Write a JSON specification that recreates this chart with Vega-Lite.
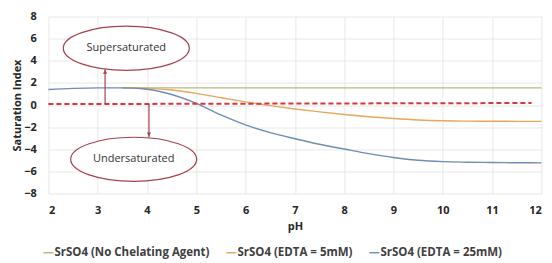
{
  "$schema": "https://vega.github.io/schema/vega-lite/v6.json",
  "width": 493,
  "height": 177,
  "autosize": "none",
  "padding": {"left": 48.4, "top": 16.5, "right": 11, "bottom": 70},
  "background": "white",
  "config": {
    "view": {"stroke": null},
    "font": "Open Sans",
    "axis": {
      "grid": true,
      "gridColor": "#e2e2e2",
      "gridWidth": 0.8,
      "domain": false,
      "ticks": false,
      "labelOverlap": false,
      "labelFont": "Open Sans",
      "labelFontWeight": "bold",
      "labelFontSize": 11,
      "labelColor": "#262626",
      "titleFont": "Open Sans",
      "titleFontWeight": "bold",
      "titleFontSize": 11,
      "titleColor": "#262626"
    }
  },
  "encoding": {
    "x": {
      "field": "pH", "type": "quantitative", "title": "pH",
      "scale": {"domain": [2, 12], "nice": false},
      "axis": {"values": [2, 3, 4, 5, 6, 7, 8, 9, 10, 11, 12], "labelOverlap": false, "labelPadding": 11, "titlePadding": 5}
    },
    "y": {
      "field": "SI", "type": "quantitative", "title": "Saturation Index",
      "scale": {"domain": [-8, 8], "nice": false},
      "axis": {"values": [-8, -6, -4, -2, 0, 2, 4, 6, 8], "labelOverlap": false, "labelPadding": 12, "titlePadding": 1}
    }
  },
  "layer": [
    {
      "data": {
        "values": [
          {"pH": 3.5, "SI": 1.55, "series": "SrSO4 (No Chelating Agent)"},
          {"pH": 5, "SI": 1.55, "series": "SrSO4 (No Chelating Agent)"},
          {"pH": 7, "SI": 1.55, "series": "SrSO4 (No Chelating Agent)"},
          {"pH": 9, "SI": 1.55, "series": "SrSO4 (No Chelating Agent)"},
          {"pH": 12, "SI": 1.55, "series": "SrSO4 (No Chelating Agent)"},
          {"pH": 3.5, "SI": 1.55, "series": "SrSO4 (EDTA = 5mM)"},
          {"pH": 3.8, "SI": 1.54, "series": "SrSO4 (EDTA = 5mM)"},
          {"pH": 4, "SI": 1.5, "series": "SrSO4 (EDTA = 5mM)"},
          {"pH": 4.5, "SI": 1.36, "series": "SrSO4 (EDTA = 5mM)"},
          {"pH": 5, "SI": 1.05, "series": "SrSO4 (EDTA = 5mM)"},
          {"pH": 5.5, "SI": 0.65, "series": "SrSO4 (EDTA = 5mM)"},
          {"pH": 6, "SI": 0.28, "series": "SrSO4 (EDTA = 5mM)"},
          {"pH": 6.5, "SI": -0.06, "series": "SrSO4 (EDTA = 5mM)"},
          {"pH": 7, "SI": -0.36, "series": "SrSO4 (EDTA = 5mM)"},
          {"pH": 7.5, "SI": -0.62, "series": "SrSO4 (EDTA = 5mM)"},
          {"pH": 8, "SI": -0.86, "series": "SrSO4 (EDTA = 5mM)"},
          {"pH": 8.5, "SI": -1.06, "series": "SrSO4 (EDTA = 5mM)"},
          {"pH": 9, "SI": -1.22, "series": "SrSO4 (EDTA = 5mM)"},
          {"pH": 9.5, "SI": -1.35, "series": "SrSO4 (EDTA = 5mM)"},
          {"pH": 10, "SI": -1.43, "series": "SrSO4 (EDTA = 5mM)"},
          {"pH": 10.5, "SI": -1.46, "series": "SrSO4 (EDTA = 5mM)"},
          {"pH": 11, "SI": -1.47, "series": "SrSO4 (EDTA = 5mM)"},
          {"pH": 12, "SI": -1.48, "series": "SrSO4 (EDTA = 5mM)"},
          {"pH": 2, "SI": 1.4, "series": "SrSO4 (EDTA = 25mM)"},
          {"pH": 2.5, "SI": 1.5, "series": "SrSO4 (EDTA = 25mM)"},
          {"pH": 3, "SI": 1.55, "series": "SrSO4 (EDTA = 25mM)"},
          {"pH": 3.5, "SI": 1.55, "series": "SrSO4 (EDTA = 25mM)"},
          {"pH": 4, "SI": 1.42, "series": "SrSO4 (EDTA = 25mM)"},
          {"pH": 4.5, "SI": 0.95, "series": "SrSO4 (EDTA = 25mM)"},
          {"pH": 5, "SI": 0.15, "series": "SrSO4 (EDTA = 25mM)"},
          {"pH": 5.5, "SI": -0.9, "series": "SrSO4 (EDTA = 25mM)"},
          {"pH": 6, "SI": -1.8, "series": "SrSO4 (EDTA = 25mM)"},
          {"pH": 6.5, "SI": -2.5, "series": "SrSO4 (EDTA = 25mM)"},
          {"pH": 7, "SI": -3.05, "series": "SrSO4 (EDTA = 25mM)"},
          {"pH": 7.5, "SI": -3.55, "series": "SrSO4 (EDTA = 25mM)"},
          {"pH": 8, "SI": -3.98, "series": "SrSO4 (EDTA = 25mM)"},
          {"pH": 8.5, "SI": -4.4, "series": "SrSO4 (EDTA = 25mM)"},
          {"pH": 9, "SI": -4.75, "series": "SrSO4 (EDTA = 25mM)"},
          {"pH": 9.5, "SI": -5.0, "series": "SrSO4 (EDTA = 25mM)"},
          {"pH": 10, "SI": -5.12, "series": "SrSO4 (EDTA = 25mM)"},
          {"pH": 10.5, "SI": -5.17, "series": "SrSO4 (EDTA = 25mM)"},
          {"pH": 11, "SI": -5.2, "series": "SrSO4 (EDTA = 25mM)"},
          {"pH": 11.5, "SI": -5.22, "series": "SrSO4 (EDTA = 25mM)"},
          {"pH": 12, "SI": -5.23, "series": "SrSO4 (EDTA = 25mM)"}
        ]
      },
      "mark": {"type": "line", "interpolate": "monotone", "strokeWidth": 1.4},
      "encoding": {
        "color": {
          "field": "series", "type": "nominal", "title": null,
          "scale": {
            "domain": ["SrSO4 (No Chelating Agent)", "SrSO4 (EDTA = 5mM)", "SrSO4 (EDTA = 25mM)"],
            "range": ["#b8b97e", "#e6a85c", "#6f8db5"]
          },
          "legend": {
            "orient": "none",
            "legendX": -6,
            "legendY": 230,
            "direction": "horizontal",
            "symbolType": "stroke",
            "symbolSize": 100,
            "symbolStrokeWidth": 1.4,
            "labelFont": "Open Sans",
            "labelFontWeight": "bold",
            "labelFontSize": 11.5,
            "labelColor": "#404040",
            "labelOffset": 0,
            "labelLimit": 400,
            "columnPadding": 13
          }
        },
        "order": {"value": 0}
      }
    },
    {
      "data": {"values": [{"pH": 2, "SI": 0.08}, {"pH": 11.8, "SI": 0.18}]},
      "mark": {"type": "line", "color": "#d9343f", "strokeWidth": 2, "strokeDash": [5, 3]}
    },
    {
      "data": {"values": [{"pH": 3.15, "SI": 0.1, "SI2": 3.3}, {"pH": 4.04, "SI": 0.1, "SI2": -2.95}]},
      "mark": {"type": "rule", "color": "#a8404c", "strokeWidth": 1.2},
      "encoding": {
        "y2": {"field": "SI2"}
      }
    },
    {
      "data": {"values": [
        {"pH": 3.58, "SI": 5.13, "label": "Supersaturated"},
        {"pH": 3.73, "SI": -4.91, "label": "Undersaturated"}
      ]},
      "mark": {
        "type": "point",
        "shape": "M-1,0C-1,-0.1934,-0.5523,-0.35,0,-0.35C0.5523,-0.35,1,-0.1934,1,0C1,0.1934,0.5523,0.35,0,0.35C-0.5523,0.35,-1,0.1934,-1,0Z",
        "size": 15876,
        "filled": false,
        "fill": "white",
        "fillOpacity": 1,
        "stroke": "#a8404c",
        "strokeWidth": 1.2,
        "opacity": 1
      }
    },
    {
      "data": {"values": [{"pH": 3.15, "SI": 3.0, "dir": "up"}]},
      "mark": {"type": "point", "shape": "triangle-up", "size": 18, "filled": true, "color": "#a8404c", "opacity": 1}
    },
    {
      "data": {"values": [{"pH": 4.04, "SI": -2.65, "dir": "down"}]},
      "mark": {"type": "point", "shape": "triangle-down", "size": 18, "filled": true, "color": "#a8404c", "opacity": 1}
    },
    {
      "data": {"values": [
        {"pH": 3.58, "SI": 5.13, "label": "Supersaturated"},
        {"pH": 3.73, "SI": -4.91, "label": "Undersaturated"}
      ]},
      "mark": {"type": "text", "font": "Open Sans", "fontSize": 11, "color": "#333333"},
      "encoding": {
        "text": {"field": "label"}
      }
    }
  ]
}
